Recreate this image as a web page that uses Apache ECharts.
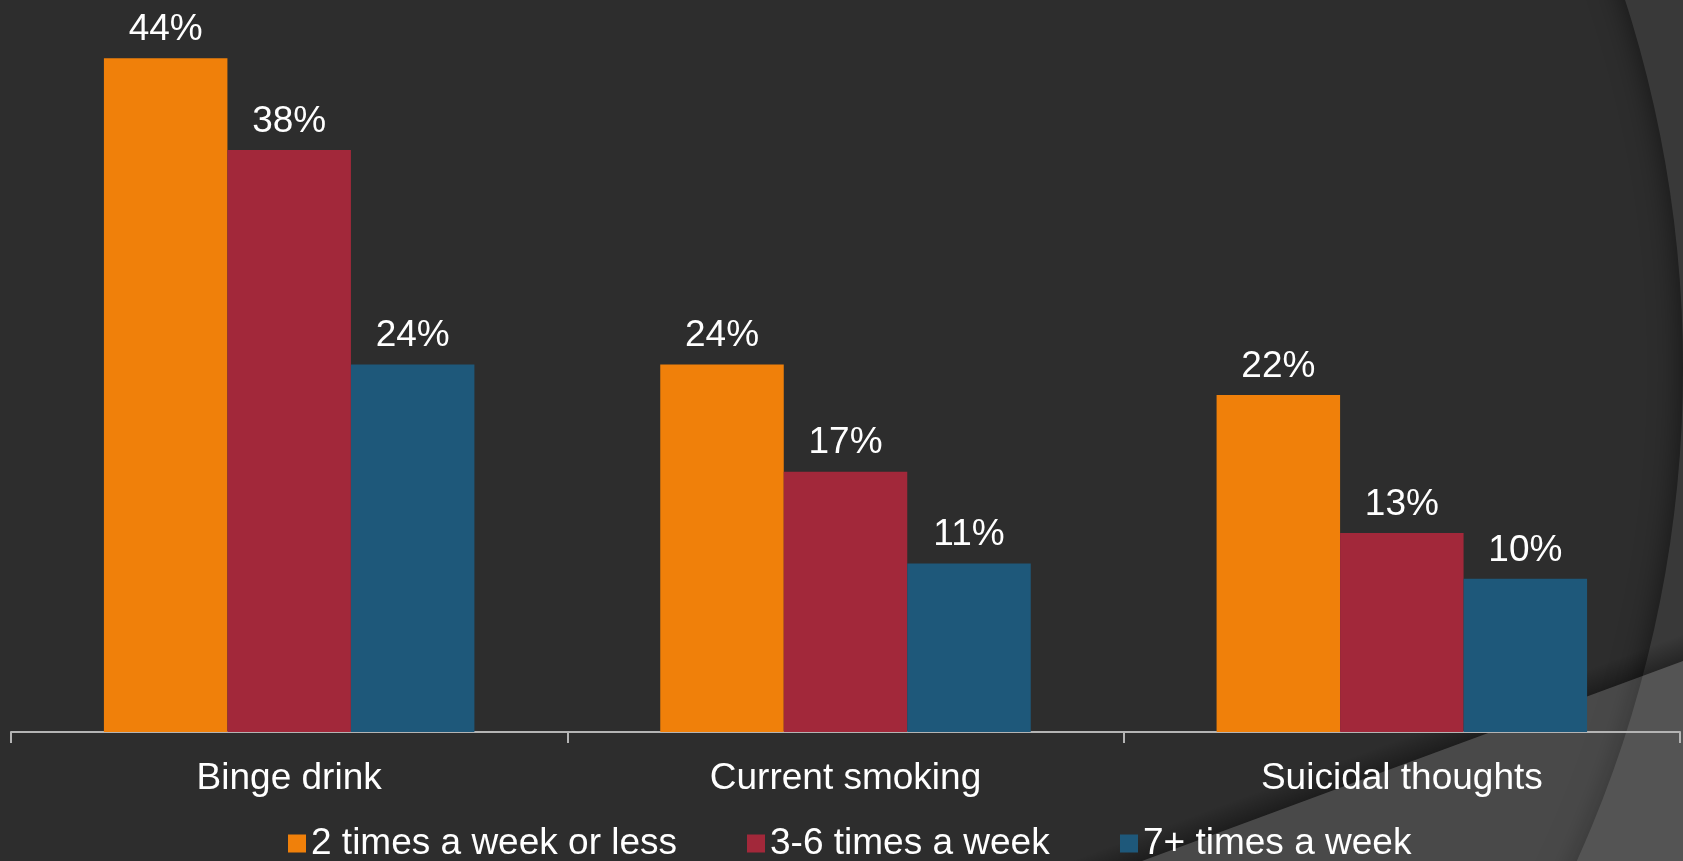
<!DOCTYPE html>
<html>
<head>
<meta charset="utf-8">
<script src="https://cdn.jsdelivr.net/npm/echarts@6/dist/echarts.min.js"></script>
<style>
html,body{margin:0;padding:0;background:#2d2d2d;}
#chart{width:1683px;height:861px;}
</style>
</head>
<body>
<div id="chart"></div>
<script>
var categories = ['Binge drink', 'Current smoking', 'Suicidal thoughts'];
var seriesNames = ['2 times a week or less', '3-6 times a week', '7+ times a week'];
var twoOrLess = [44, 24, 22];
var threeToSix = [38, 17, 13];
var sevenPlus = [24, 11, 10];
var colors = ['#f0800a', '#a2283a', '#1e587a'];

var FONT = '"Liberation Sans", Arial, sans-serif';
var chart = echarts.init(document.getElementById('chart'), null, {renderer: 'canvas'});

function makeSeries(name, data, color) {
  return {
    name: name,
    type: 'bar',
    data: data,
    barWidth: 123.5,
    barGap: '0%',
    itemStyle: {color: color},
    label: {
      show: true,
      position: 'top',
      distance: 10,
      formatter: '{c}%',
      color: '#ffffff',
      fontSize: 37,
      fontFamily: FONT
    }
  };
}

function makeLegend(name, left) {
  return {
    data: [name],
    left: left,
    top: 825,
    padding: 0,
    icon: 'rect',
    itemWidth: 18,
    itemHeight: 18,
    itemGap: 0,
    textStyle: {color: '#ffffff', fontSize: 37, fontFamily: FONT},
    selectedMode: false
  };
}

var option = {
  backgroundColor: '#2d2d2d',
  animation: false,
  graphic: [
    {
      type: 'ring', z: -10, silent: true,
      shape: {cx: 486, cy: 368, r0: 1197, r: 3000},
      style: {fill: '#393939', shadowBlur: 30, shadowColor: 'rgba(0,0,0,0.55)'}
    },
    {
      type: 'polygon', z: -9, silent: true,
      shape: {points: [[1000, 913.5], [1800, 617.7], [1800, 560], [1000, 855]]},
      style: {
        fill: {
          type: 'linear', global: true,
          x: 1400, y: 765.6, x2: 1391.3, y2: 742.1,
          colorStops: [{offset: 0, color: 'rgba(0,0,0,0.35)'}, {offset: 1, color: 'rgba(0,0,0,0)'}]
        }
      }
    },
    {
      type: 'polygon', z: -8, silent: true,
      shape: {points: [[1000, 913.5], [1800, 617.7], [1800, 1000], [1000, 1000]]},
      style: {fill: 'rgba(255,255,255,0.138)'}
    }
  ],
  legend: [
    makeLegend(seriesNames[0], 288),
    makeLegend(seriesNames[1], 747),
    makeLegend(seriesNames[2], 1120)
  ],
  grid: {left: 11, right: 3, top: 0, bottom: 129, containLabel: false},
  xAxis: {
    type: 'category',
    data: categories,
    axisLine: {lineStyle: {color: '#b4b4b4', width: 2}},
    axisTick: {show: true, length: 11, lineStyle: {color: '#b4b4b4', width: 2}},
    axisLabel: {color: '#ffffff', fontSize: 37, fontFamily: FONT, margin: 28}
  },
  yAxis: {
    type: 'value', min: 0, max: 47.8, show: false,
    splitLine: {show: false}
  },
  series: [
    makeSeries(seriesNames[0], twoOrLess, colors[0]),
    makeSeries(seriesNames[1], threeToSix, colors[1]),
    makeSeries(seriesNames[2], sevenPlus, colors[2])
  ]
};
chart.setOption(option);
</script>
</body>
</html>
